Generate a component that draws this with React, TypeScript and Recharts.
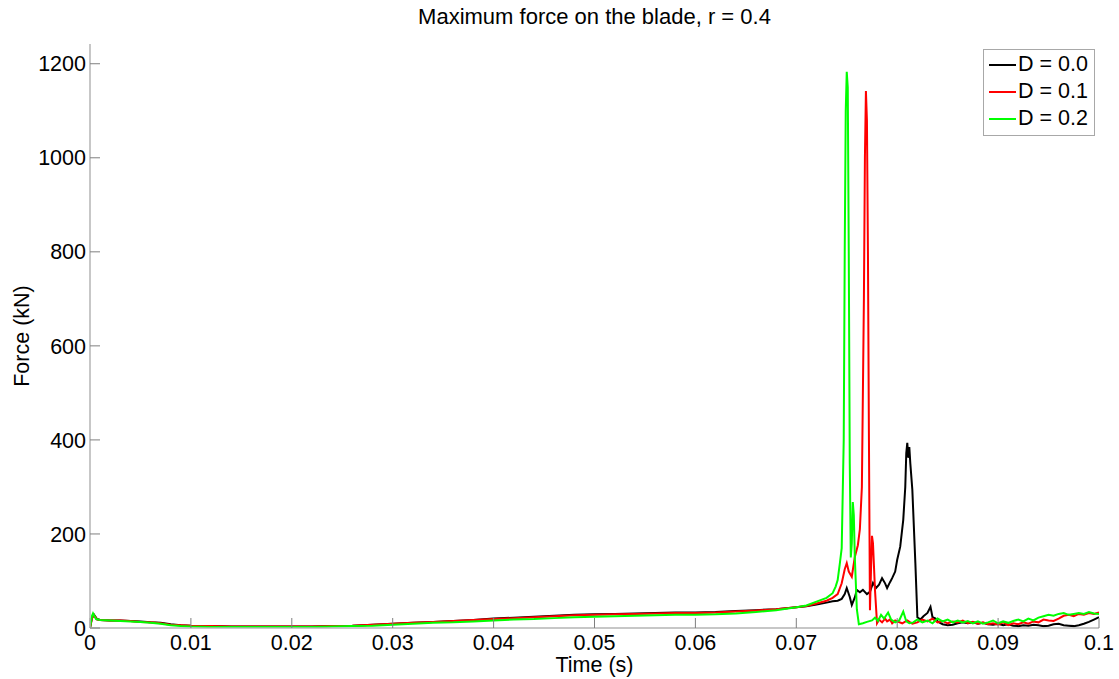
import React from 'react';
import { LineChart, Line, XAxis, YAxis, Legend } from 'recharts';

const timeD0 = [
  0, 0.0002, 0.0004, 0.0007, 0.001, 0.002, 0.003, 0.004, 0.005, 0.006,
  0.007, 0.008, 0.009, 0.010, 0.012, 0.014, 0.016, 0.018, 0.020, 0.022,
  0.024, 0.026, 0.028, 0.030, 0.032, 0.034, 0.036, 0.038, 0.040, 0.042,
  0.044, 0.046, 0.048, 0.050, 0.052, 0.054, 0.056, 0.058, 0.060, 0.062,
  0.064, 0.066, 0.068, 0.070, 0.071, 0.072, 0.073, 0.0736, 0.0741, 0.0745,
  0.0748, 0.0750, 0.0753, 0.0755, 0.0758, 0.0760, 0.0763, 0.0766, 0.0770, 0.0773,
  0.0776, 0.0779, 0.0782, 0.0785, 0.0788, 0.0790, 0.0793, 0.0795, 0.0798, 0.0800,
  0.0803, 0.0806, 0.0808, 0.0809, 0.0810, 0.0811, 0.0812, 0.0813, 0.0815, 0.0818,
  0.0820, 0.0823, 0.0826, 0.0830, 0.0833, 0.0835, 0.0838, 0.0840, 0.0845, 0.0850,
  0.0855, 0.0860, 0.0865, 0.0870, 0.0875, 0.0880, 0.0885, 0.0890, 0.0895, 0.0900,
  0.0905, 0.0910, 0.0915, 0.0920, 0.0925, 0.0930, 0.0935, 0.0940, 0.0945, 0.0950,
  0.0955, 0.0960, 0.0965, 0.0970, 0.0975, 0.0980, 0.0985, 0.0990, 0.0995, 0.1000,
];
const forceD0 = [
  0, 22, 28, 19, 17, 16, 16, 15, 14, 12,
  11, 8, 6, 5, 4, 3, 3, 3, 3, 3,
  4, 5, 7, 9, 11, 13, 15, 17, 20, 22,
  24, 26, 28, 29, 30, 31, 32, 33, 33, 34,
  36, 38, 40, 44, 46, 50, 54, 57, 58, 62,
  72, 85, 66, 49, 65, 81, 76, 81, 72, 77,
  96, 85, 92, 106, 95, 85, 98, 106, 120, 145,
  173, 230, 300, 372, 394, 362, 385, 350, 294, 138,
  23, 18, 25, 32, 45, 23, 20, 14, 8, 6,
  7, 10, 12, 10, 12, 9, 11, 8, 7, 9,
  6, 8, 5, 4, 6, 5, 7, 6, 4, 5,
  8, 9, 6, 5, 4, 6, 9, 13, 18, 23,
];

const timeD1 = [
  0, 0.0002, 0.0004, 0.0007, 0.001, 0.002, 0.003, 0.004, 0.005, 0.006,
  0.007, 0.008, 0.009, 0.010, 0.012, 0.014, 0.016, 0.018, 0.020, 0.022,
  0.024, 0.026, 0.028, 0.030, 0.032, 0.034, 0.036, 0.038, 0.040, 0.042,
  0.044, 0.046, 0.048, 0.050, 0.052, 0.054, 0.056, 0.058, 0.060, 0.062,
  0.064, 0.066, 0.068, 0.070, 0.071, 0.072, 0.073, 0.0736, 0.0741, 0.0745,
  0.0748, 0.0750, 0.0752, 0.0755, 0.0758, 0.0761, 0.0763, 0.0765, 0.0767, 0.0768,
  0.0769, 0.0770, 0.0771, 0.0772, 0.0773, 0.0774, 0.0775, 0.0776, 0.0778, 0.0780,
  0.0782, 0.0785, 0.0788, 0.0790, 0.0793, 0.0795, 0.0798, 0.0800, 0.0805, 0.0810,
  0.0815, 0.0820, 0.0825, 0.0830, 0.0835, 0.0840, 0.0845, 0.0850, 0.0855, 0.0860,
  0.0865, 0.0870, 0.0875, 0.0880, 0.0885, 0.0890, 0.0895, 0.0900, 0.0905, 0.0910,
  0.0915, 0.0920, 0.0925, 0.0930, 0.0935, 0.0940, 0.0945, 0.0950, 0.0955, 0.0960,
  0.0965, 0.0970, 0.0975, 0.0980, 0.0985, 0.0990, 0.0995, 0.1000,
];
const forceD1 = [
  0, 21, 27, 18, 17, 16, 16, 15, 13, 12,
  10, 7, 6, 5, 4, 3, 3, 3, 3, 3,
  4, 5, 7, 9, 11, 13, 15, 17, 19, 21,
  23, 25, 27, 28, 29, 30, 31, 32, 32, 33,
  35, 37, 40, 44, 47, 52, 58, 64, 72, 95,
  125, 138, 120, 109, 151, 176, 210, 300, 700, 1000,
  1142, 1080, 800, 400, 38, 120, 196, 180, 80, 10,
  18, 12, 20, 14, 18, 10, 16, 14, 10, 16,
  9, 12, 18, 14, 20, 12, 15, 10, 14, 12,
  16, 10, 13, 9, 12, 8, 10, 7, 12, 6,
  10, 8, 12, 9, 14, 12, 18, 16, 15, 20,
  26, 28, 25, 30, 28, 32, 30, 33,
];

const timeD2 = [
  0, 0.0002, 0.0003, 0.0006, 0.001, 0.002, 0.003, 0.004, 0.005, 0.006,
  0.007, 0.008, 0.009, 0.010, 0.012, 0.014, 0.016, 0.018, 0.020, 0.022,
  0.024, 0.026, 0.028, 0.030, 0.032, 0.034, 0.036, 0.038, 0.040, 0.042,
  0.044, 0.046, 0.048, 0.050, 0.052, 0.054, 0.056, 0.058, 0.060, 0.062,
  0.064, 0.066, 0.068, 0.070, 0.071, 0.072, 0.073, 0.0736, 0.0739, 0.0741,
  0.0743, 0.0745, 0.0747, 0.0748, 0.0749, 0.0750, 0.0751, 0.0752, 0.0753, 0.0754,
  0.0755, 0.0756, 0.0757, 0.0758, 0.0760, 0.0762, 0.0766, 0.0770, 0.0775, 0.0778,
  0.0781, 0.0784, 0.0787, 0.0791, 0.0794, 0.0798, 0.0802, 0.0806, 0.0809, 0.0812,
  0.0816, 0.0820, 0.0825, 0.0830, 0.0835, 0.0840, 0.0845, 0.0850, 0.0855, 0.0860,
  0.0865, 0.0870, 0.0875, 0.0880, 0.0885, 0.0890, 0.0895, 0.0900, 0.0905, 0.0910,
  0.0915, 0.0920, 0.0925, 0.0930, 0.0935, 0.0940, 0.0945, 0.0950, 0.0955, 0.0960,
  0.0965, 0.0970, 0.0975, 0.0980, 0.0985, 0.0990, 0.0995, 0.1000,
];
const forceD2 = [
  0, 26, 31, 19, 17, 16, 15, 14, 13, 11,
  9, 6, 4, 3, 2, 2, 2, 2, 2, 2,
  3, 4, 5, 7, 9, 11, 12, 14, 16, 18,
  19, 21, 23, 24, 25, 26, 27, 28, 28, 29,
  31, 34, 38, 44, 48, 56, 64, 74, 88, 102,
  135, 170, 400, 800, 1100, 1183, 1150, 800, 350, 150,
  180, 268, 240, 150, 40, 8, 10, 13, 16, 22,
  15, 28, 20, 33, 18, 12, 16, 35, 14, 10,
  12, 18, 12, 16, 10, 20, 14, 18, 12, 16,
  12, 15, 10, 14, 9, 12, 16, 10, 14, 11,
  15, 18, 14, 20, 16, 22, 25, 28, 26, 30,
  32, 28, 30, 32, 30, 34, 31, 30,
];

const xTicks = [0, 0.01, 0.02, 0.03, 0.04, 0.05, 0.06, 0.07, 0.08, 0.09, 0.1];
const yTicks = [0, 200, 400, 600, 800, 1000, 1200];
const seriesNames = ['D = 0.0', 'D = 0.1', 'D = 0.2'];
const seriesColors = ['#000000', '#ff0000', '#00ff00'];

const titleText = 'Maximum force on the blade, r = 0.4';
const xLabelText = 'Time (s)';
const yLabelText = 'Force (kN)';

const toPoints = (t: number[], f: number[]) => t.map((x, i) => ({ t: x, f: f[i] }));
const seriesData = [
  toPoints(timeD0, forceD0),
  toPoints(timeD1, forceD1),
  toPoints(timeD2, forceD2),
];

const FONT = '"Liberation Sans", Arial, Helvetica, sans-serif';
const AXIS_GRAY = '#b4b4b4';
const TICK_GRAY = '#7f7f7f';
const X_DOMAIN: [number, number] = [0, 0.1];
const Y_DOMAIN: [number, number] = [0, 1242];
const TICK_FONT = 21.5;

const LegendBox = () => (
  <div
    style={{
      border: '1px solid #a8a8a8',
      background: '#fff',
      padding: '1px 4px 3px 5px',
      fontFamily: FONT,
      fontSize: 21.5,
      lineHeight: '27px',
      color: '#000',
      boxSizing: 'border-box',
      width: 112,
    }}
  >
    {seriesNames.map((n, i) => (
      <div key={n} style={{ display: 'flex', alignItems: 'center', whiteSpace: 'nowrap' }}>
        <span style={{ display: 'inline-block', width: 27, height: 2, background: seriesColors[i], marginRight: 2 }} />
        <span>{n}</span>
      </div>
    ))}
  </div>
);

export default function App() {
  return (
    <div style={{ position: 'absolute', left: 0, top: 0, width: 1119, height: 679, background: '#fff', fontFamily: FONT }}>
      <div style={{ position: 'absolute', left: 90, width: 1009, top: 4, textAlign: 'center', fontSize: 22, lineHeight: '26px', color: '#000' }}>
        {titleText}
      </div>
      <div style={{ position: 'absolute', left: 90, width: 1009, top: 656, textAlign: 'center', fontSize: 21.5, lineHeight: '18px', color: '#000' }}>
        {xLabelText}
      </div>
      <div style={{ position: 'absolute', left: -78, top: 324, width: 200, height: 24, textAlign: 'center', fontSize: 21.5, lineHeight: '24px', color: '#000', transform: 'rotate(-90deg)' }}>
        {yLabelText}
      </div>
      <LineChart width={1119} height={679} margin={{ top: 44, right: 20, bottom: 21, left: 30 }}>
        <XAxis
          dataKey="t"
          type="number"
          domain={X_DOMAIN}
          ticks={xTicks}
          allowDataOverflow
          height={30}
          tickSize={-10}
          tickMargin={17}
          axisLine={{ stroke: AXIS_GRAY, strokeWidth: 1.5 }}
          tickLine={{ stroke: TICK_GRAY }}
          tick={{ fill: '#000', fontSize: TICK_FONT, fontFamily: FONT }}
          tickFormatter={(v: number) => String(v)}
          interval={0}
        />
        <XAxis
          xAxisId="top"
          orientation="top"
          type="number"
          domain={X_DOMAIN}
          ticks={xTicks}
          allowDataOverflow
          height={0}
          tickSize={-10}
          axisLine={{ stroke: AXIS_GRAY, strokeWidth: 1.5 }}
          tickLine={{ stroke: TICK_GRAY }}
          tick={false}
          interval={0}
        />
        <YAxis
          type="number"
          domain={Y_DOMAIN}
          ticks={yTicks}
          allowDataOverflow
          width={60}
          tickSize={-10}
          tickMargin={14}
          axisLine={{ stroke: AXIS_GRAY, strokeWidth: 1.5 }}
          tickLine={{ stroke: TICK_GRAY }}
          tick={{ fill: '#000', fontSize: TICK_FONT, fontFamily: FONT }}
          interval={0}
        />
        <YAxis
          yAxisId="right"
          orientation="right"
          type="number"
          domain={Y_DOMAIN}
          ticks={yTicks}
          allowDataOverflow
          width={0}
          tickSize={-10}
          axisLine={{ stroke: AXIS_GRAY, strokeWidth: 1.5 }}
          tickLine={{ stroke: TICK_GRAY }}
          tick={false}
          interval={0}
        />
        <Legend
          verticalAlign="middle"
          align="center"
          layout="vertical"
          content={() => <LegendBox />}
          wrapperStyle={{ position: 'absolute', top: 49, left: 983, width: 112, height: 'auto' }}
        />
        {seriesData.map((d, i) => (
          <Line
            key={seriesNames[i]}
            data={d}
            dataKey="f"
            name={seriesNames[i]}
            type="linear"
            stroke={seriesColors[i]}
            strokeWidth={2}
            dot={false}
            activeDot={false}
            isAnimationActive={false}
          />
        ))}
      </LineChart>
    </div>
  );
}
